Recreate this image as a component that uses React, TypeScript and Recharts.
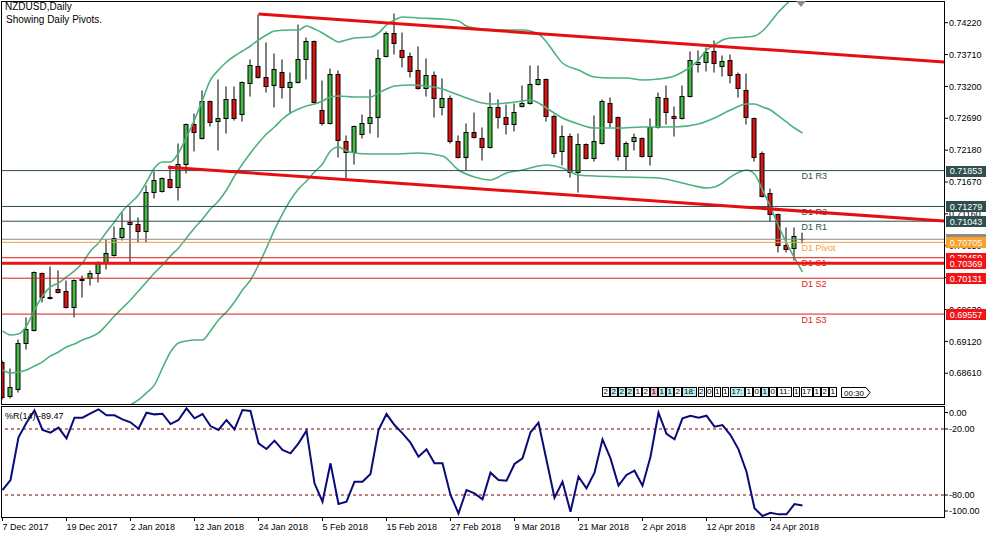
import React from "react";
import { ComposedChart, Bar, Line, XAxis, YAxis, ReferenceLine } from "recharts";

const FONT = '"Liberation Sans", Arial, sans-serif';

// daily bars, index 0 = 7 Dec 2017 ... index 100 = 30 Apr 2018
const opens = [
  0.68791, 0.68247, 0.68359, 0.69095, 0.69303, 0.70215, 0.69831, 0.69959, 0.69927, 0.69671,
  0.70119, 0.70135, 0.70215, 0.70375, 0.70503, 0.70791, 0.71031, 0.70999, 0.70887, 0.71511,
  0.71527, 0.71719, 0.71591, 0.71959, 0.72599, 0.72375, 0.72967, 0.72647, 0.72695, 0.72999,
  0.72759, 0.73255, 0.73527, 0.73351, 0.73223, 0.73431, 0.73191, 0.73271, 0.73639, 0.73927,
  0.72823, 0.72615, 0.73399, 0.72327, 0.72151, 0.72439, 0.72615, 0.72711, 0.73687, 0.74055,
  0.73783, 0.73687, 0.73463, 0.73175, 0.73383, 0.72871, 0.73015, 0.72327, 0.72071, 0.72471,
  0.72375, 0.72231, 0.72871, 0.72711, 0.72599, 0.72887, 0.72935, 0.73239, 0.73319, 0.72727,
  0.72167, 0.72407, 0.71831, 0.72279, 0.72055, 0.72295, 0.72935, 0.72711, 0.72087, 0.72327,
  0.72375, 0.72087, 0.72551, 0.73015, 0.72727, 0.72695, 0.73047, 0.73559, 0.73591, 0.73767,
  0.73527, 0.73623, 0.73399, 0.73143, 0.72695, 0.72135, 0.71495, 0.71159, 0.70663, 0.70615,
  0.70759,
];
const highs = [
  0.68823, 0.68695, 0.69159, 0.69511, 0.70247, 0.70231, 0.70327, 0.70263, 0.70103, 0.70119,
  0.70183, 0.70263, 0.70407, 0.70759, 0.70967, 0.71191, 0.71287, 0.71111, 0.71623, 0.71847,
  0.71751, 0.71943, 0.72295, 0.72615, 0.72775, 0.73143, 0.72983, 0.73319, 0.73207, 0.73207,
  0.73287, 0.73639, 0.74359, 0.73911, 0.73735, 0.73639, 0.73431, 0.74199, 0.73991, 0.73943,
  0.73303, 0.73495, 0.73463, 0.72423, 0.72583, 0.72759, 0.73159, 0.73799, 0.74087, 0.74375,
  0.74071, 0.73751, 0.73847, 0.73655, 0.73447, 0.73335, 0.73063, 0.72423, 0.72615, 0.72791,
  0.72551, 0.73111, 0.72999, 0.72919, 0.72935, 0.73223, 0.73543, 0.73543, 0.73335, 0.72759,
  0.72583, 0.72455, 0.72455, 0.72295, 0.72743, 0.72999, 0.73031, 0.72727, 0.72327, 0.72455,
  0.72391, 0.72695, 0.73111, 0.73223, 0.72887, 0.73223, 0.73767, 0.73783, 0.73831, 0.73943,
  0.73703, 0.73719, 0.73431, 0.73415, 0.72711, 0.72167, 0.71575, 0.71175, 0.70951, 0.70951,
  0.70871,
];
const lows = [
  0.68199, 0.68215, 0.68311, 0.68999, 0.69287, 0.69751, 0.69799, 0.69895, 0.69655, 0.69511,
  0.69831, 0.70023, 0.70071, 0.70279, 0.70487, 0.70743, 0.70375, 0.70711, 0.70711, 0.71415,
  0.71511, 0.71575, 0.71383, 0.71815, 0.72167, 0.72359, 0.72567, 0.72183, 0.72455, 0.72663,
  0.72647, 0.73047, 0.73335, 0.73111, 0.72871, 0.73015, 0.72775, 0.73255, 0.73319, 0.72935,
  0.72583, 0.72599, 0.72071, 0.71735, 0.71959, 0.72375, 0.72455, 0.72391, 0.73671, 0.73719,
  0.73511, 0.73351, 0.73159, 0.73047, 0.72711, 0.72743, 0.72295, 0.72055, 0.71863, 0.72375,
  0.72023, 0.72215, 0.72535, 0.72439, 0.72487, 0.72871, 0.72919, 0.73223, 0.72647, 0.72071,
  0.71943, 0.71751, 0.71511, 0.72039, 0.72007, 0.72279, 0.72551, 0.72023, 0.71863, 0.72183,
  0.72071, 0.71943, 0.72535, 0.72599, 0.72407, 0.72679, 0.73031, 0.73431, 0.73447, 0.73431,
  0.73367, 0.73255, 0.73031, 0.72599, 0.72007, 0.71431, 0.71047, 0.70551, 0.70551, 0.70423,
  0.70695,
];
const closes = [
  0.68231, 0.68391, 0.69095, 0.69319, 0.70231, 0.69831, 0.69815, 0.69911, 0.69671, 0.70103,
  0.70103, 0.70215, 0.70375, 0.70535, 0.70775, 0.70935, 0.70999, 0.70887, 0.71511, 0.71703,
  0.71735, 0.71591, 0.71959, 0.72599, 0.72471, 0.72967, 0.72631, 0.72695, 0.72999, 0.72695,
  0.73271, 0.73543, 0.73351, 0.73207, 0.73479, 0.73191, 0.73271, 0.73639, 0.73927, 0.72951,
  0.72615, 0.73399, 0.72343, 0.72151, 0.72567, 0.72615, 0.72711, 0.73655, 0.74055, 0.73895,
  0.73671, 0.73447, 0.73175, 0.73383, 0.73015, 0.73015, 0.72327, 0.72071, 0.72471, 0.72391,
  0.72231, 0.72871, 0.72711, 0.72599, 0.72791, 0.72935, 0.73239, 0.73319, 0.72727, 0.72135,
  0.72407, 0.71831, 0.72279, 0.72055, 0.72327, 0.72967, 0.72631, 0.72087, 0.72295, 0.72391,
  0.72087, 0.72551, 0.73031, 0.72791, 0.72695, 0.73047, 0.73623, 0.73591, 0.73751, 0.73575,
  0.73607, 0.73383, 0.73175, 0.72711, 0.72071, 0.71447, 0.71159, 0.70663, 0.70599, 0.70807,
  0.70754,
];

// Williams %R(14)
const williamsR = [
  -75.5, -66.4, -27.5, -14.3, -3, -20.9, -23.3, -18.8, -28.5, -9.7,
  -9.7, -5.8, -2.1, -7.6, -7.6, -11.2, -13.9, -19.7, -5.2, -6.7,
  -6.1, -15.5, -11.8, -1.2, -10.3, -6.4, -17.3, -20.9, -11.8, -20.3,
  -2.7, -3.6, -33, -38.2, -30.6, -39.1, -42.1, -33, -21.5, -69.4,
  -86.1, -51.2, -88.2, -86.1, -67.9, -67.9, -60.9, -20.9, -6.4, -16.4,
  -24, -32.4, -45.2, -38.5, -51.2, -51.2, -80, -96.7, -75.5, -78.5,
  -83.9, -59.7, -66.4, -67, -51.8, -46.7, -23, -14.3, -48.2, -82.4,
  -67.9, -95.2, -63.3, -73.9, -59.7, -29.4, -46.7, -71.5, -61.8, -57.9,
  -71.5, -45.2, -5.2, -24.5, -29.4, -10.3, -7.9, -9.7, -7.9, -17.9,
  -16.4, -25.5, -38.5, -58.8, -92.1, -99.1, -96.1, -97.6, -97.6, -88.2,
  -89.47,
];

// Bollinger bands, read as [bar index, price]
const upperBand: [number, number][] = [
  [0, 0.69287], [1, 0.69223], [2, 0.69239], [3, 0.69367], [4, 0.69623], [5, 0.69847], [6, 0.69991],
  [7, 0.70055], [8, 0.70151], [9, 0.70247], [10, 0.70375], [11, 0.70567], [12, 0.70695], [13, 0.70871],
  [14, 0.71031], [15, 0.71207], [16, 0.71335], [17, 0.71463], [18, 0.71671], [19, 0.71895], [20, 0.71991],
  [21, 0.71991], [22, 0.72135], [23, 0.72391], [24, 0.72663], [25, 0.72983], [26, 0.73303], [27, 0.73463],
  [28, 0.73591], [29, 0.73687], [30, 0.73767], [31, 0.73847], [32, 0.73943], [33, 0.74023], [34, 0.74087],
  [36, 0.74103], [37, 0.74103], [38, 0.74167], [39, 0.74119], [40, 0.74055], [41, 0.73975], [42, 0.73911],
  [43, 0.73943], [44, 0.73975], [46, 0.73991], [47, 0.74055], [48, 0.74183], [49, 0.74263], [50, 0.74311],
  [52, 0.74295], [55, 0.74279], [57, 0.74247], [58, 0.74167], [60, 0.74119], [63, 0.74103], [65, 0.74103],
  [67, 0.74039], [68, 0.73911], [69, 0.73735], [70, 0.73575], [72, 0.73463], [74, 0.73351], [76, 0.73335],
  [78, 0.73335], [80, 0.73303], [82, 0.73319], [84, 0.73367], [85, 0.73431], [86, 0.73511], [87, 0.73623],
  [88, 0.73783], [89, 0.73863], [90, 0.73943], [91, 0.73975], [93, 0.73991], [94, 0.74007], [95, 0.74087],
  [96, 0.74231], [97, 0.74391], [98, 0.74519], [99, 0.74647], [100, 0.74775],
];
const middleBand: [number, number][] = [
  [0, 0.68663], [1, 0.68615], [2, 0.68631], [3, 0.68663], [4, 0.68727], [5, 0.68791], [6, 0.68887],
  [7, 0.68951], [8, 0.69031], [9, 0.69079], [10, 0.69143], [11, 0.69191], [12, 0.69255], [13, 0.69383],
  [14, 0.69527], [15, 0.69655], [16, 0.69783], [17, 0.69927], [18, 0.70071], [19, 0.70215], [20, 0.70343],
  [21, 0.70487], [22, 0.70615], [23, 0.70775], [24, 0.70935], [25, 0.71079], [26, 0.71239], [27, 0.71367],
  [28, 0.71543], [29, 0.71767], [30, 0.71959], [31, 0.72135], [32, 0.72295], [33, 0.72439], [34, 0.72551],
  [35, 0.72679], [36, 0.72775], [37, 0.72839], [38, 0.72887], [39, 0.72919], [40, 0.72967], [41, 0.73031],
  [42, 0.73047], [44, 0.73031], [46, 0.73031], [47, 0.73095], [48, 0.73159], [49, 0.73207], [51, 0.73223],
  [53, 0.73207], [55, 0.73159], [56, 0.73111], [58, 0.73015], [60, 0.72935], [61, 0.72919], [63, 0.72935],
  [65, 0.72967], [66, 0.72983], [67, 0.72935], [68, 0.72855], [70, 0.72695], [72, 0.72599], [74, 0.72535],
  [77, 0.72535], [80, 0.72551], [84, 0.72551], [87, 0.72599], [89, 0.72695], [91, 0.72823], [93, 0.72919],
  [94, 0.72919], [95, 0.72871], [96, 0.72823], [97, 0.72727], [98, 0.72631], [99, 0.72535], [100, 0.72455],
];
const lowerBand: [number, number][] = [
  [14, 0.67895], [16, 0.68103], [17, 0.68183], [18, 0.68295], [19, 0.68423], [20, 0.68695], [21, 0.68951],
  [22, 0.69095], [23, 0.69127], [24, 0.69143], [25, 0.69143], [26, 0.69287], [27, 0.69463], [28, 0.69591],
  [29, 0.69751], [30, 0.69943], [31, 0.70103], [32, 0.70343], [33, 0.70615], [34, 0.70903], [35, 0.71159],
  [36, 0.71383], [37, 0.71559], [38, 0.71687], [39, 0.71831], [40, 0.71959], [41, 0.72167], [42, 0.72231],
  [43, 0.72167], [44, 0.72135], [46, 0.72119], [49, 0.72119], [52, 0.72135], [55, 0.72087], [57, 0.71863],
  [59, 0.71751], [61, 0.71703], [62, 0.71751], [63, 0.71815], [65, 0.71863], [67, 0.71927], [68, 0.71943],
  [70, 0.71895], [72, 0.71783], [74, 0.71767], [78, 0.71751], [82, 0.71735], [86, 0.71623], [88, 0.71575],
  [89, 0.71591], [90, 0.71655], [91, 0.71751], [93, 0.71863], [94, 0.71799], [95, 0.71543], [96, 0.71271],
  [97, 0.70967], [98, 0.70695], [99, 0.70455], [100, 0.70231],
];

const dateTicks = [0, 8, 16, 24, 32, 40, 48, 56, 64, 72, 80, 88, 96];
const dateLabels = [
  "7 Dec 2017", "19 Dec 2017", "2 Jan 2018", "12 Jan 2018", "24 Jan 2018", "5 Feb 2018", "15 Feb 2018",
  "27 Feb 2018", "9 Mar 2018", "21 Mar 2018", "2 Apr 2018", "12 Apr 2018", "24 Apr 2018",
];
const priceTicks = [
  0.7422, 0.7371, 0.732, 0.7269, 0.7218, 0.7167, 0.7116, 0.7065, 0.7014, 0.6963, 0.6912, 0.6861,
];
const wrTicks = [0, -20, -80, -100];

const pivotNames = ["D1 R3", "D1 R2", "D1 R1", "D1 Pivot", "D1 S1", "D1 S2", "D1 S3"];
const pivotPrices = [0.71853, 0.71279, 0.71043, 0.70705, 0.70459, 0.70131, 0.69557];
const bidPrice = 0.70754;
const supportLine = 0.70369;
const upperTrend: [number, number][] = [[32, 0.74359], [117.6875, 0.73591]];
const lowerTrend: [number, number][] = [[20.7, 0.71906], [117.6875, 0.71047]];

const timerCells = ["2", "2", "2", "2", "1", "2", "1", "1", "1", "2", "18:", "2", "0", "1", "1", "17:", "1", "0", "1", "0", "11:", "1", "17", "1", "2", "1"];
const timerShade = ["", "c", "c", "c", "", "", "p", "c", "c", "", "c", "", "", "", "", "c", "", "", "c", "", "", "", "", "", "", ""];
const timerLeft = "00:30";

const X_MIN = -0.0625;
const X_MAX = 117.6875;
const Y_MIN = 0.68118;
const Y_MAX = 0.74551;
const LAST = opens.length - 1;

const BULL = "#46b946";
const BEAR = "#dc1414";
const BAND = "#4db27e";
const SLATE = "#2f4f4f";
const ORANGE = "#f0a03c";
const RED = "#e01b1b";
const BOX_RED = "#f01414";

// right-edge price boxes, drawn in this order (later ones on top)
const levelBoxes: { price: number; fill: string }[] = [
  { price: pivotPrices[0], fill: SLATE },
  { price: pivotPrices[1], fill: SLATE },
  { price: pivotPrices[2], fill: SLATE },
  { price: bidPrice, fill: "#8c8c8c" },
  { price: pivotPrices[3], fill: "#f9a12a" },
  { price: pivotPrices[4], fill: BOX_RED },
  { price: supportLine, fill: BOX_RED },
  { price: pivotPrices[5], fill: BOX_RED },
  { price: pivotPrices[6], fill: BOX_RED },
];
const axisTicks = [...priceTicks, ...levelBoxes.map((b) => b.price)];

const rows = opens.map((o, i) => ({
  i,
  o,
  h: highs[i],
  l: lows[i],
  c: closes[i],
  wr: williamsR[i],
  bbUp: null as number | null,
  bbMid: null as number | null,
  bbLow: null as number | null,
}));
upperBand.forEach(([i, v]) => (rows[i].bbUp = v));
middleBand.forEach(([i, v]) => (rows[i].bbMid = v));
lowerBand.forEach(([i, v]) => (rows[i].bbLow = v));

function Candle(props: any) {
  const { x, y, width, height, payload } = props;
  if (x == null || payload == null) return null;
  const top = Math.min(y, y + height);
  const h = Math.abs(height);
  const span = payload.h - payload.l || 1e-9;
  const py = (p: number) => top + ((payload.h - p) / span) * h;
  const cx = x + width / 2;
  const snap = (v: number) => Math.round(v) + 0.5;
  const yo = snap(py(payload.o));
  const yc = snap(py(payload.c));
  const bull = payload.c >= payload.o;
  return (
    <g>
      <line x1={cx} x2={cx} y1={snap(top)} y2={snap(top + h)} stroke="#000" strokeWidth={1} />
      {Math.abs(yo - yc) < 1 ? (
        <line x1={cx - 2.5} x2={cx + 2.5} y1={yo} y2={yo} stroke="#000" strokeWidth={1} />
      ) : (
        <rect
          x={cx - 2}
          y={Math.min(yo, yc)}
          width={4}
          height={Math.abs(yo - yc)}
          fill={bull ? BULL : BEAR}
          stroke="#000"
          strokeWidth={1}
        />
      )}
    </g>
  );
}

function PriceTick(props: any) {
  const { x, y, payload, index } = props;
  const v = payload.value as number;
  const k = index - priceTicks.length;
  if (k >= 0 && levelBoxes[k]) {
    return (
      <g>
        <rect x={x + 2} y={Math.round(y) - 5} width={40} height={11} fill={levelBoxes[k].fill} />
        <text x={x + 22} y={y + 3.5} fontSize={9} textAnchor="middle" fill="#fff" fontFamily={FONT}>
          {v.toFixed(5)}
        </text>
      </g>
    );
  }
  return (
    <g>
      <line x1={x} x2={x + 4} y1={y} y2={y} stroke="#000" />
      <text x={x + 5} y={y + 3.2} fontSize={9} fill="#000" fontFamily={FONT}>
        {v.toFixed(5)}
      </text>
    </g>
  );
}

function levelName(name: string, color: string) {
  return (props: any) => {
    const vb = props.viewBox || {};
    const x = vb.x ?? 0;
    const y = vb.y ?? 0;
    const width = vb.width ?? 0;
    const lx = x + ((LAST - X_MIN) * width) / (X_MAX - X_MIN) - 1;
    return (
      <text x={lx} y={y + 8.5} fontSize={9} fill={color} fontFamily={FONT}>
        {name}
      </text>
    );
  };
}

function WrTick(props: any) {
  const { x, y, payload } = props;
  const v = payload.value as number;
  const yy = y + (v === 0 ? 5.5 : v === -100 ? -6 : 0);
  return (
    <g>
      <line x1={x} x2={x + 4} y1={yy} y2={yy} stroke="#000" />
      <text x={x + 5} y={yy + 3.2} fontSize={9} fill="#000" fontFamily={FONT}>
        {v.toFixed(2)}
      </text>
    </g>
  );
}

function DateTick(props: any) {
  const { x, y, payload } = props;
  const k = dateTicks.indexOf(payload.value);
  return (
    <g>
      <line x1={x} x2={x} y1={y} y2={y + 4} stroke="#000" />
      <text x={x} y={y + 13} fontSize={9} fill="#000" fontFamily={FONT}>
        {dateLabels[k]}
      </text>
    </g>
  );
}

function TimerStrip() {
  let left = 602;
  const cells = timerCells.map((t, k) => {
    const w = t.length === 1 ? 7.5 : t.length === 2 ? 12 : 15;
    const bg = timerShade[k] === "c" ? "#bfeeee" : timerShade[k] === "p" ? "#f4b6bf" : "#fff";
    const el = (
      <div
        key={k}
        style={{
          position: "absolute",
          left,
          top: 387,
          width: w,
          height: 10,
          boxSizing: "border-box",
          border: "1px solid #000",
          background: bg,
          fontSize: 8,
          lineHeight: "8px",
          textAlign: "center",
          overflow: "hidden",
        }}
      >
        {t}
      </div>
    );
    left += w + 0.5;
    return el;
  });
  return (
    <>
      {cells}
      <svg style={{ position: "absolute", left: 841, top: 387 }} width={30} height={11}>
        <polygon points="0.5,0.5 25,0.5 29,5.5 25,10.5 0.5,10.5" fill="#fff" stroke="#000" />
        <text x={3} y={8.5} fontSize={8} fontFamily={FONT} fill="#000">
          {timerLeft}
        </text>
      </svg>
    </>
  );
}

export default function App() {
  return (
    <div
      style={{
        position: "relative",
        width: 999,
        height: 539,
        background: "#fff",
        overflow: "hidden",
        fontFamily: FONT,
        color: "#000",
      }}
    >
      <style>{"body{margin:0}"}</style>

      <div style={{ position: "absolute", left: 0, top: 0 }}>
        <ComposedChart width={999} height={406} data={rows} margin={{ top: 2, right: 0, bottom: 2, left: 2 }}>
          <XAxis type="number" dataKey="i" domain={[X_MIN, X_MAX]} allowDataOverflow hide />
          <YAxis
            orientation="right"
            type="number"
            domain={[Y_MIN, Y_MAX]}
            allowDataOverflow
            ticks={axisTicks}
            interval={0}
            width={55}
            axisLine={false}
            tickLine={false}
            tickSize={0}
            tickMargin={0}
            tick={<PriceTick />}
          />
          <Bar
            dataKey={(d: any) => [d.l, d.h]}
            barSize={5}
            shape={<Candle />}
            isAnimationActive={false}
          />
          <Line type="monotone" dataKey="bbUp" stroke={BAND} strokeWidth={1.6} dot={false} connectNulls isAnimationActive={false} />
          <Line type="monotone" dataKey="bbMid" stroke={BAND} strokeWidth={1.6} dot={false} connectNulls isAnimationActive={false} />
          <Line type="monotone" dataKey="bbLow" stroke={BAND} strokeWidth={1.6} dot={false} connectNulls isAnimationActive={false} />

          <ReferenceLine y={pivotPrices[0]} stroke={SLATE} label={levelName(pivotNames[0], SLATE)} />
          <ReferenceLine y={pivotPrices[1]} stroke={SLATE} label={levelName(pivotNames[1], SLATE)} />
          <ReferenceLine y={pivotPrices[2]} stroke={SLATE} label={levelName(pivotNames[2], SLATE)} />
          <ReferenceLine y={bidPrice} stroke="#8c8c8c" />
          <ReferenceLine y={pivotPrices[3]} stroke={ORANGE} label={levelName(pivotNames[3], ORANGE)} />
          <ReferenceLine y={pivotPrices[4]} stroke={RED} label={levelName(pivotNames[4], RED)} />
          <ReferenceLine y={pivotPrices[5]} stroke={RED} label={levelName(pivotNames[5], RED)} />
          <ReferenceLine y={pivotPrices[6]} stroke={RED} label={levelName(pivotNames[6], RED)} />
          <ReferenceLine y={supportLine} stroke="#e81515" strokeWidth={3} />
          <ReferenceLine
            segment={[{ x: upperTrend[0][0], y: upperTrend[0][1] }, { x: upperTrend[1][0], y: upperTrend[1][1] }]}
            stroke="#e60f0f"
            strokeWidth={3}
            ifOverflow="hidden"
          />
          <ReferenceLine
            segment={[{ x: lowerTrend[0][0], y: lowerTrend[0][1] }, { x: lowerTrend[1][0], y: lowerTrend[1][1] }]}
            stroke="#e60f0f"
            strokeWidth={3}
            ifOverflow="hidden"
          />
        </ComposedChart>
      </div>

      <div style={{ position: "absolute", left: 0, top: 405 }}>
        <ComposedChart width={999} height={134} data={rows} margin={{ top: 2, right: 0, bottom: 0, left: 2 }}>
          <XAxis
            type="number"
            dataKey="i"
            domain={[X_MIN, X_MAX]}
            allowDataOverflow
            ticks={dateTicks}
            interval={0}
            height={22}
            axisLine={false}
            tickLine={false}
            tickSize={0}
            tickMargin={0}
            tick={<DateTick />}
          />
          <YAxis
            orientation="right"
            type="number"
            domain={[-100, 0]}
            allowDataOverflow
            ticks={wrTicks}
            interval={0}
            width={55}
            axisLine={false}
            tickLine={false}
            tickSize={0}
            tickMargin={0}
            tick={<WrTick />}
          />
          <ReferenceLine y={-20} stroke="#800000" strokeDasharray="3 3" />
          <ReferenceLine y={-80} stroke="#800000" strokeDasharray="3 3" />
          <Line type="linear" dataKey="wr" stroke="#0a0a78" strokeWidth={2} dot={false} isAnimationActive={false} />
        </ComposedChart>
      </div>

      {/* panel frames */}
      <div style={{ position: "absolute", left: 1, top: 1, width: 944, height: 404, border: "1px solid #000", boxSizing: "border-box", pointerEvents: "none" }} />
      <div style={{ position: "absolute", left: 1, top: 406, width: 944, height: 112, border: "1px solid #000", boxSizing: "border-box", pointerEvents: "none" }} />

      <svg style={{ position: "absolute", left: 796, top: 1 }} width={12} height={8}>
        <polygon points="0,0 10,0 5,6" fill="#8c8c8c" />
      </svg>

      <div style={{ position: "absolute", left: 5, top: 1, fontSize: 10, lineHeight: "12px", whiteSpace: "nowrap" }}>
        NZDUSD,Daily
      </div>
      <div style={{ position: "absolute", left: 6, top: 14, fontSize: 10, lineHeight: "12px", whiteSpace: "nowrap" }}>
        Showing Daily Pivots.
      </div>
      <div style={{ position: "absolute", left: 5, top: 410, fontSize: 9, lineHeight: "12px", whiteSpace: "nowrap" }}>
        %R(14) -89.47
      </div>

      <TimerStrip />
    </div>
  );
}
